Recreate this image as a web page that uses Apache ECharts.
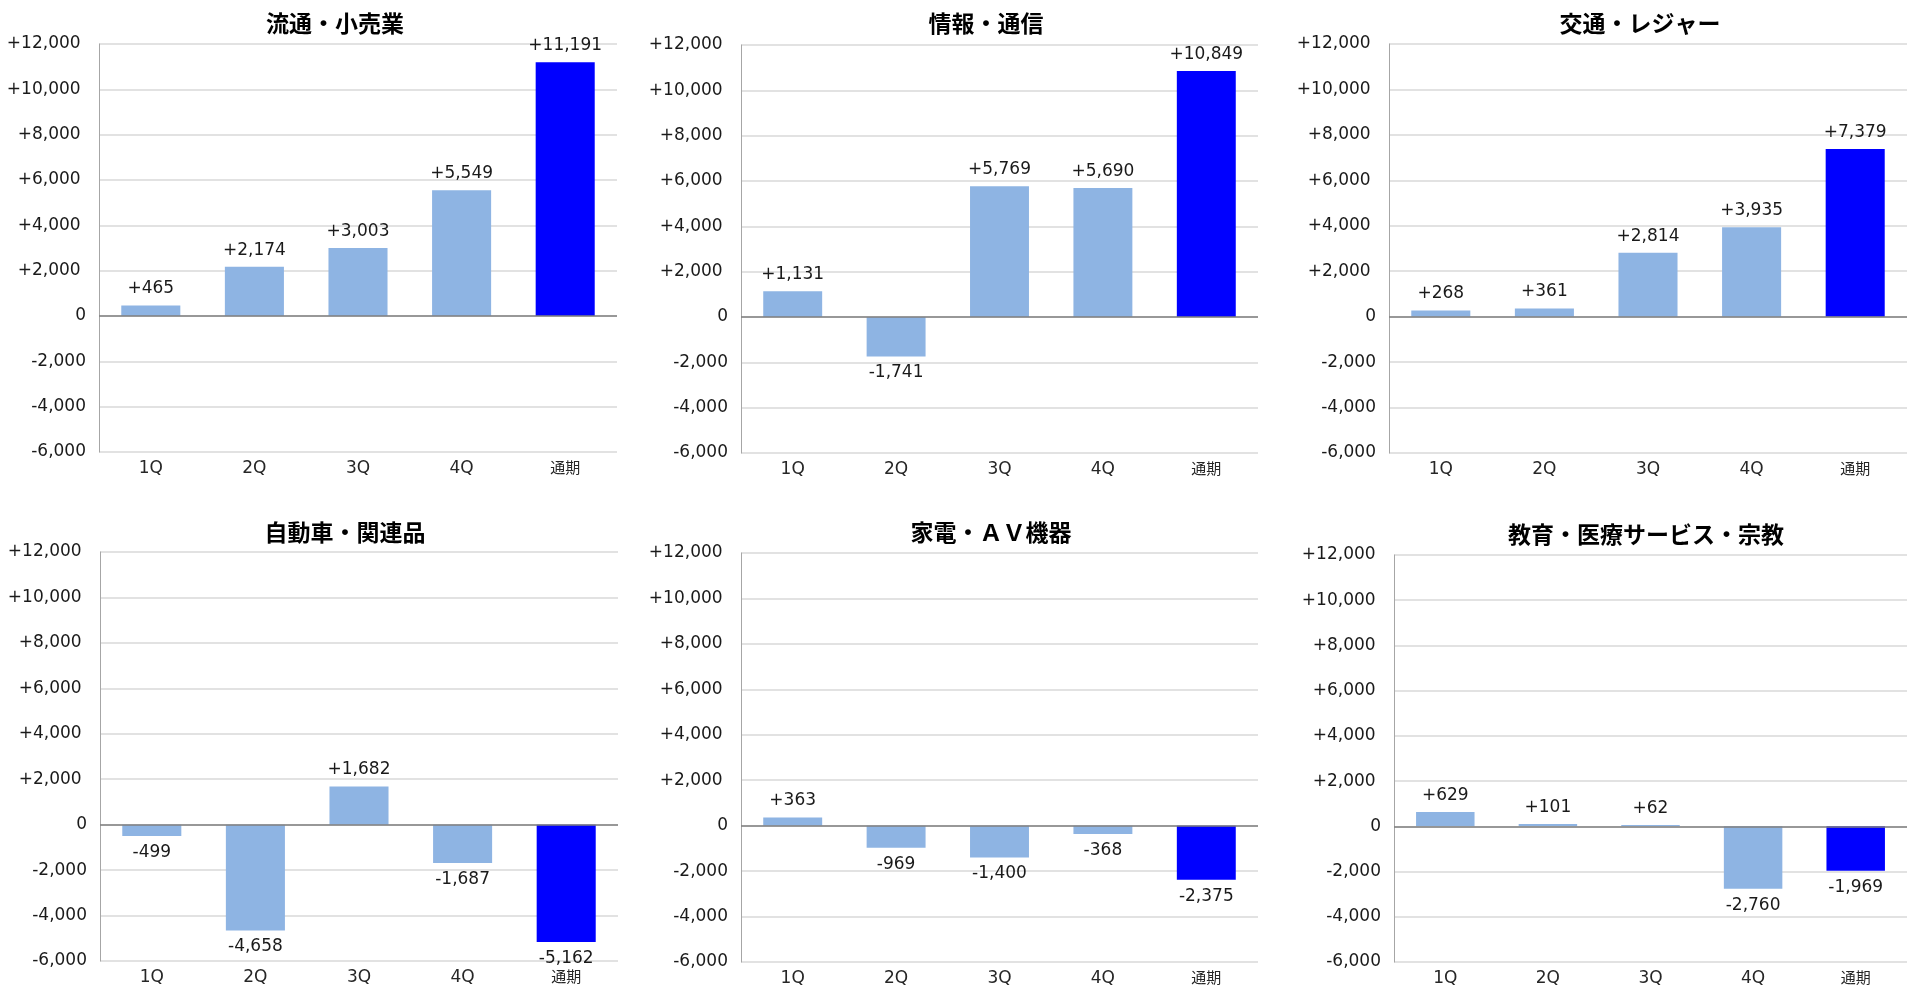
<!DOCTYPE html>
<html>
<head>
<meta charset="utf-8">
<script src="https://cdn.jsdelivr.net/npm/echarts@6/dist/echarts.min.js"></script>
<style>
html,body{margin:0;padding:0;background:#fff;}
#chart{width:1907px;height:987px;}
</style>
</head>
<body>
<div id="chart"></div>
<script>
// ---- data ----
const categories = ['1Q', '2Q', '3Q', '4Q', '通期'];
const titles = ['流通・小売業', '情報・通信', '交通・レジャー', '自動車・関連品', '家電・ＡＶ機器', '教育・医療サービス・宗教'];
const retail = [465, 2174, 3003, 5549, 11191];
const infoComm = [1131, -1741, 5769, 5690, 10849];
const transport = [268, 361, 2814, 3935, 7379];
const autoParts = [-499, -4658, 1682, -1687, -5162];
const appliance = [363, -969, -1400, -368, -2375];
const education = [629, 101, 62, -2760, -1969];
const yMin = -6000, yMax = 12000, yStep = 2000;

const seriesData = [retail, infoComm, transport, autoParts, appliance, education];

// ---- layout (px) ----
const grids = [
  {left: 99,   top: 44,  width: 518, height: 408},
  {left: 741,  top: 45,  width: 517, height: 408},
  {left: 1389, top: 44,  width: 518, height: 409},
  {left: 100,  top: 552, width: 518, height: 409},
  {left: 741,  top: 553, width: 517, height: 410},
  {left: 1394, top: 555, width: 513, height: 410}
];
const titlePos = [
  {x: 335, y: 12}, {x: 986, y: 12}, {x: 1640, y: 12},
  {x: 345, y: 521}, {x: 991, y: 521}, {x: 1646, y: 523}
];

const numFont = 'DejaVu Sans';
const lightBlue = '#8EB4E3';
const darkBlue = '#0000FF';

function fmt(v) {
  const s = Math.abs(v).toLocaleString('en-US');
  if (v > 0) return '+' + s;
  if (v < 0) return '-' + s;
  return '0';
}

const option = {
  animation: false,
  backgroundColor: '#fff',
  title: titles.map((t, i) => ({
    text: t,
    left: titlePos[i].x,
    top: titlePos[i].y,
    textAlign: 'center',
    padding: 0,
    textStyle: {fontFamily: 'Noto Sans CJK JP', fontWeight: 'bold', fontSize: 23, color: '#000'}
  })),
  grid: grids.map(g => Object.assign({containLabel: false}, g)),
  xAxis: grids.map((g, i) => ({
    type: 'category',
    gridIndex: i,
    data: categories,
    axisTick: {show: false},
    axisLine: {show: false},
    axisLabel: {
      interval: 0,
      margin: 8,
      fontFamily: numFont,
      fontSize: 17,
      color: '#262626',
      formatter: v => /[^\x00-\x7f]/.test(v) ? '{cjk|' + v + '}' : v,
      rich: {cjk: {fontFamily: 'Noto Sans CJK JP', fontSize: 15, color: '#262626'}}
    }
  })),
  yAxis: grids.map((g, i) => ({
    type: 'value',
    gridIndex: i,
    min: yMin, max: yMax, interval: yStep,
    axisLine: {show: true, lineStyle: {color: '#a6a6a6', width: 1}},
    axisTick: {show: false},
    splitLine: {show: true, lineStyle: {color: '#d9d9d9', width: 1.5}},
    axisLabel: {
      margin: 13,
      fontFamily: numFont,
      fontSize: 17,
      color: '#1a1a1a',
      formatter: v => v > 0 ? fmt(v) + ' ' : fmt(v)
    }
  })),
  series: seriesData.map((arr, i) => ({
    type: 'bar',
    xAxisIndex: i,
    yAxisIndex: i,
    barWidth: '57%',
    data: arr.map((v, j) => ({
      value: v,
      itemStyle: {color: j === categories.length - 1 ? darkBlue : lightBlue},
      label: {position: v < 0 ? 'bottom' : 'top'}
    })),
    label: {
      show: true,
      distance: 8,
      fontFamily: numFont,
      fontSize: 17,
      color: '#1a1a1a',
      formatter: p => fmt(p.value)
    },
    markLine: {
      silent: true,
      symbol: ['none', 'none'],
      label: {show: false},
      lineStyle: {color: '#7f7f7f', width: 1.5, type: 'solid'},
      data: [{yAxis: 0}]
    }
  }))
};

const chart = echarts.init(document.getElementById('chart'));
chart.setOption(option);
</script>
</body>
</html>
